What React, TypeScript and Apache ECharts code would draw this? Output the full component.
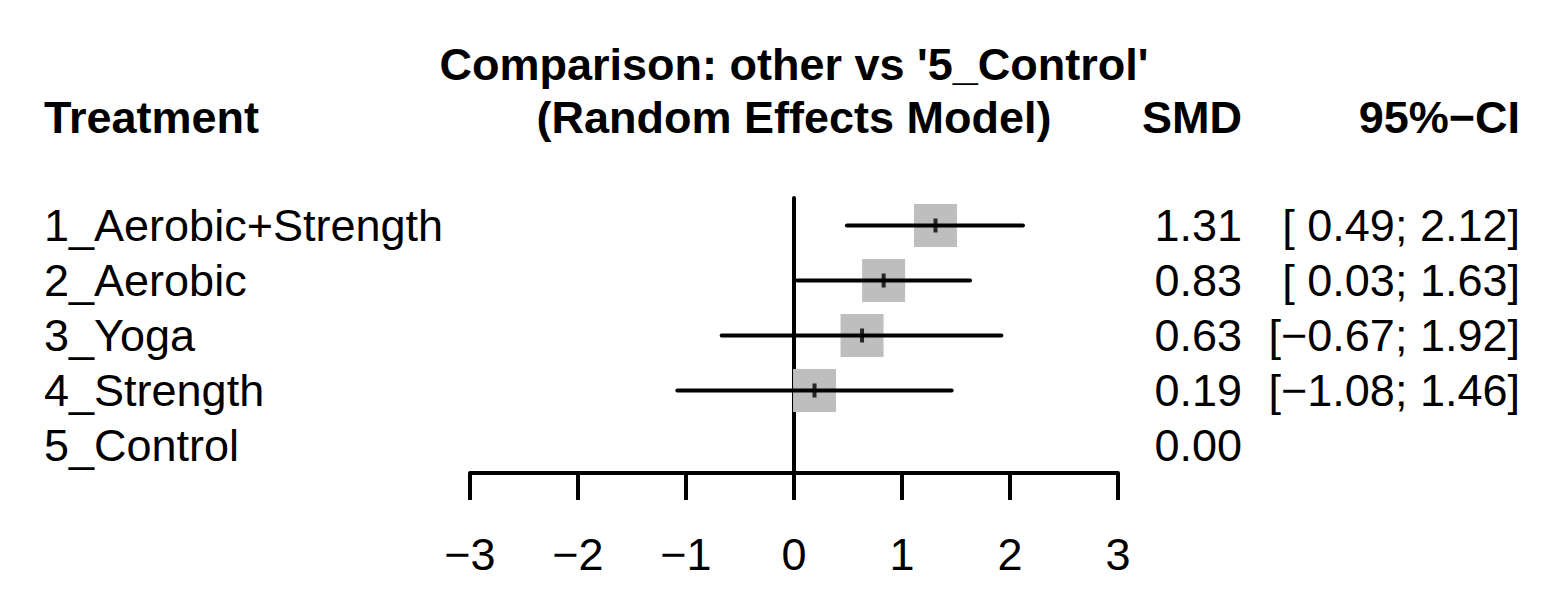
import React, { useEffect, useRef } from "react";
import * as echarts from "echarts";

const treatments = ["1_Aerobic+Strength", "2_Aerobic", "3_Yoga", "4_Strength", "5_Control"];
const smd = [1.31, 0.83, 0.63, 0.19, 0.0];
const ciLower: (number | null)[] = [0.49, 0.03, -0.67, -1.08, null];
const ciUpper: (number | null)[] = [2.12, 1.63, 1.92, 1.46, null];
const xMin = -3;
const xMax = 3;
const xInterval = 1;

const titleLine1 = "Comparison: other vs '5_Control'";
const titleLine2 = "(Random Effects Model)";
const headTreatment = "Treatment";
const headSmd = "SMD";
const headCi = "95%\u2212CI";

const MINUS = "\u2212";
const fmtNum = (v: number) => (v < 0 ? MINUS + Math.abs(v).toFixed(2) : v.toFixed(2));
const fmtCiNum = (v: number) => (v < 0 ? MINUS + Math.abs(v).toFixed(2) : " " + v.toFixed(2));
const smdLabels = smd.map((v) => fmtNum(v));
const ciLabels = treatments.map((_, i) =>
  ciLower[i] == null || ciUpper[i] == null
    ? ""
    : "[" + fmtCiNum(ciLower[i] as number) + "; " + fmtNum(ciUpper[i] as number) + "]"
);

const FONT = "'Liberation Sans', Arial, Helvetica, sans-serif";
const FS = 45;

export default function App() {
  const ref = useRef<HTMLDivElement>(null);
  useEffect(() => {
    document.body.style.margin = "0";
    document.body.style.overflow = "hidden";
    const chart = echarts.init(ref.current as HTMLDivElement, null, { renderer: "svg" });

    const rows = treatments.map((_, i) => i).filter((i) => ciLower[i] != null && ciUpper[i] != null);
    const squareData = rows.map((i) => [smd[i], i]);
    const tickData = rows.map((i) => [smd[i], i]);
    const ciData = rows.map((i) => [ciLower[i] as number, ciUpper[i] as number, i]);

    chart.setOption({
      animation: false,
      backgroundColor: "#ffffff",
      grid: { left: 470, right: 446, top: 198, bottom: 143, containLabel: false, outerBoundsMode: "none" },
      xAxis: {
        type: "value",
        min: xMin,
        max: xMax,
        interval: xInterval,
        axisLine: { show: true, onZero: false, lineStyle: { color: "#000", width: 4 } },
        axisTick: { show: true, length: 27, lineStyle: { color: "#000", width: 4 } },
        splitLine: { show: false },
        axisLabel: {
          margin: 81,
          verticalAlign: "middle",
          fontSize: FS,
          fontFamily: FONT,
          color: "#000",
          formatter: (v: number) => (v < 0 ? MINUS + Math.abs(v) : String(v)),
        },
      },
      yAxis: {
        type: "category",
        data: treatments,
        inverse: true,
        axisLine: { show: true, onZero: true, lineStyle: { color: "#000", width: 4 } },
        axisTick: { show: false },
        splitLine: { show: false },
        axisLabel: {
          interval: 0,
          align: "left",
          margin: 426,
          fontSize: FS,
          fontFamily: FONT,
          color: "#000",
        },
      },
      series: [
        {
          type: "scatter",
          name: "weight",
          data: squareData,
          symbol: "rect",
          symbolSize: 43,
          itemStyle: { color: "#BEBEBE", opacity: 1 },
          z: 2,
          silent: true,
        },
        {
          type: "custom",
          name: "ci",
          data: ciData,
          encode: { x: [0, 1], y: 2 },
          z: 3,
          silent: true,
          renderItem: (_params: any, api: any) => {
            const y = api.value(2);
            const p1 = api.coord([api.value(0), y]);
            const p2 = api.coord([api.value(1), y]);
            return {
              type: "line",
              shape: { x1: p1[0], y1: p1[1], x2: p2[0], y2: p2[1] },
              style: { stroke: "#000", lineWidth: 4, lineCap: "round" },
            };
          },
        },
        {
          type: "scatter",
          name: "estimate",
          data: tickData,
          symbol: "rect",
          symbolSize: [4, 14],
          itemStyle: { color: "#000" },
          z: 4,
          silent: true,
        },
      ],
    });

    const headerStyle = (text: string, align: string) => ({
      text,
      fontSize: FS,
      fontWeight: "bold",
      fontFamily: FONT,
      fill: "#000",
      align,
      verticalAlign: "middle",
    });
    const graphics: any[] = [
      { type: "text", x: 794, y: 64, style: headerStyle(titleLine1, "center") },
      { type: "text", x: 794, y: 117, style: headerStyle(titleLine2, "center") },
      { type: "text", x: 44, y: 117, style: headerStyle(headTreatment, "left") },
      { type: "text", x: 1242, y: 117, style: headerStyle(headSmd, "right") },
      { type: "text", x: 1520, y: 117, style: headerStyle(headCi, "right") },
    ];
    treatments.forEach((t, i) => {
      const yPix = chart.convertToPixel({ yAxisIndex: 0 }, t as any) as unknown as number;
      const common = { fontSize: FS, fontFamily: FONT, fill: "#000", verticalAlign: "middle", align: "right" };
      graphics.push({ type: "text", x: 1242, y: yPix, style: { ...common, text: smdLabels[i] } });
      if (ciLabels[i]) {
        graphics.push({ type: "text", x: 1520, y: yPix, style: { ...common, text: ciLabels[i] } });
      }
    });
    chart.setOption({ graphic: graphics });

    return () => chart.dispose();
  }, []);
  return <div ref={ref} style={{ width: 1564, height: 616 }} />;
}
